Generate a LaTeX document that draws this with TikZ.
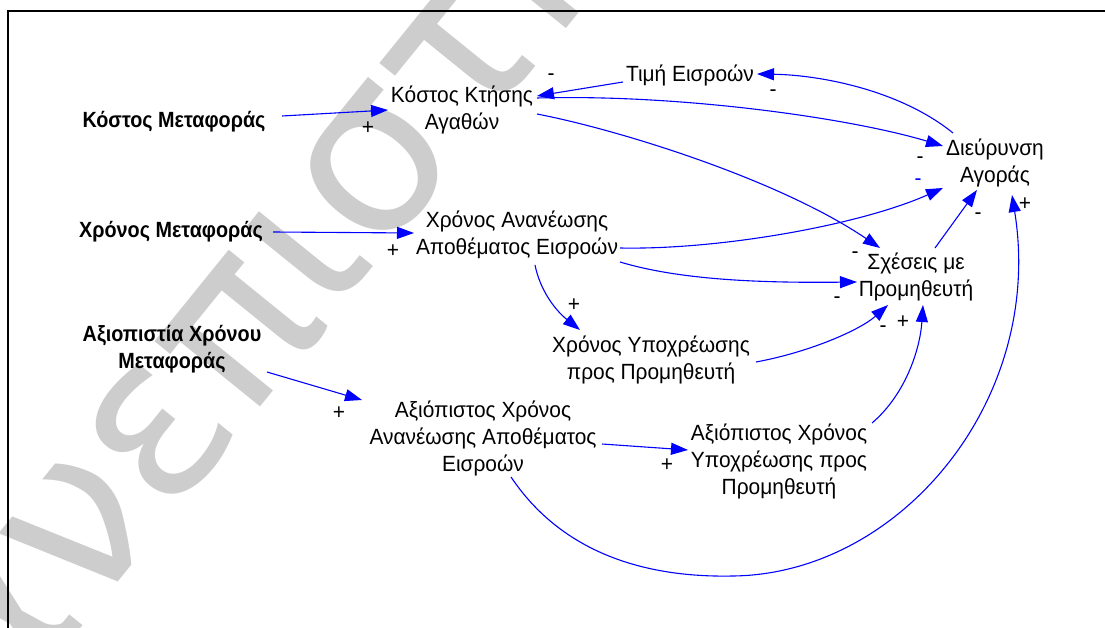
\documentclass[tikz,border=0pt]{standalone}
\usepackage{fontspec}
\setmainfont[FakeStretch=0.95]{Liberation Sans}
\newfontfamily\extfont[FakeStretch=0.9]{Liberation Sans}
\newfontfamily\wmfont{DejaVu Sans}
\usetikzlibrary{arrows.meta}
\definecolor{wmgray}{RGB}{205,205,205}
\begin{document}
\begin{tikzpicture}[x=1pt,y=-1pt,
  var/.style={align=center, font=\fontsize{22}{27}\selectfont, inner sep=0pt},
  ext/.style={align=center, font=\fontsize{22}{27}\selectfont\extfont\bfseries, inner sep=0pt},
  link/.style={draw=blue, line width=1.1pt, -{Triangle[length=17pt,width=12pt]}},
  sgn/.style={font=\fontsize{22}{22}\selectfont, inner sep=0pt},
  wm/.style={font=\fontsize{225}{225}\selectfont\wmfont, text=wmgray, inner sep=0pt}]
\useasboundingbox (0,0) rectangle (1105,628);

% watermark lettering behind the diagram
\begin{scope}
  \clip (0,0) rectangle (1105,628);
  \node[wm, rotate=51, anchor=base west] (wmark) at (-89,838) {πανεπιστήμιο};
\end{scope}

% partial frame: top and left edges
\draw[line width=2pt] (8,628) -- (8,11) -- (1105,11);

% variables
\node[ext] (km)  at (174,122) {Κόστος Μεταφοράς};
\node[ext] (xm)  at (171,232) {Χρόνος Μεταφοράς};
\node[ext] (axm) at (172,349) {Αξιοπιστία Χρόνου\\Μεταφοράς};
\node[var] (kk)  at (462,110) {Κόστος Κτήσης\\Αγαθών};
\node[var] (te)  at (690,75)  {Τιμή Εισροών};
\node[var] (da)  at (995,163) {Διεύρυνση\\Αγοράς};
\node[var] (sp)  at (916,277) {Σχέσεις με\\Προμηθευτή};
\node[var] (xa)  at (517,235) {Χρόνος Ανανέωσης\\Αποθέματος Εισροών};
\node[var] (xy)  at (651,360) {Χρόνος Υποχρέωσης\\προς Προμηθευτή};
\node[var] (axa) at (483,438) {Αξιόπιστος Χρόνος\\Ανανέωσης Αποθέματος\\Εισροών};
\node[var] (axy) at (779,461) {Αξιόπιστος Χρόνος\\Υποχρέωσης προς\\Προμηθευτή};

% causal links
\draw[link] ([shift={(108,-6)}]km.center) -- ([shift={(-74,0)}]kk.center);
\draw[link] ([shift={(102,0)}]xm.center) -- ([shift={(-103,-2)}]xa.center);
\draw[link] ([shift={(95,23)}]axm.center) -- ([shift={(-121,-38)}]axa.center);
\draw[link] ([shift={(-67,7)}]te.center) -- ([shift={(75,-14)}]kk.center);
\draw[link] ([shift={(-42,-30)}]da.center) .. controls (900,90) and (820,75) .. ([shift={(67,-1)}]te.center);
\draw[link] ([shift={(75,-12)}]kk.center) .. controls (680,94) and (850,118) .. ([shift={(-52,-17)}]da.center);
\draw[link] ([shift={(75,4)}]kk.center) .. controls (620,130) and (780,180) .. ([shift={(-36,-29)}]sp.center);
\draw[link] ([shift={(103,13)}]xa.center) .. controls (720,250) and (860,225) .. ([shift={(-52,25)}]da.center);
\draw[link] ([shift={(103,27)}]xa.center) .. controls (680,280) and (760,283) .. ([shift={(-59,5)}]sp.center);
\draw[link] ([shift={(18,30)}]xa.center) .. controls (540,290) and (555,310) .. ([shift={(-71,-30)}]xy.center);
\draw[link] ([shift={(105,2)}]xy.center) .. controls (810,352) and (860,330) .. ([shift={(-28,28)}]sp.center);
\draw[link] ([shift={(93,-38)}]axy.center) .. controls (905,395) and (920,350) .. ([shift={(7,28)}]sp.center);
\draw[link] ([shift={(119,6)}]axa.center) -- ([shift={(-91,-11)}]axy.center);
\draw[link] ([shift={(19,-29)}]sp.center) -- ([shift={(-18,27)}]da.center);
\draw[link] ([shift={(28,39)}]axa.center) .. controls (560,550) and (640,578) .. (733,576)
            .. controls (900,574) and (1045,400) .. ([shift={(17,32)}]da.center);

% polarity signs
\node[sgn] (p1)  at (368,128) {+};
\node[sgn] (p2)  at (393,251) {+};
\node[sgn] (p3)  at (339,413) {+};
\node[sgn] (p4)  at (551,77)  {-};
\node[sgn] (p5)  at (773,93)  {-};
\node[sgn] (p6)  at (920,160) {-};
\node[sgn, text=blue] (p7) at (918,182) {-};
\node[sgn] (p8)  at (855,255) {-};
\node[sgn] (p9)  at (837,300) {-};
\node[sgn] (p10) at (574,305) {+};
\node[sgn] (p11) at (883,329) {-};
\node[sgn] (p12) at (903,322) {+};
\node[sgn] (p13) at (667,465) {+};
\node[sgn] (p14) at (978,216) {-};
\node[sgn] (p15) at (1025,204) {+};
\end{tikzpicture}
\end{document}
